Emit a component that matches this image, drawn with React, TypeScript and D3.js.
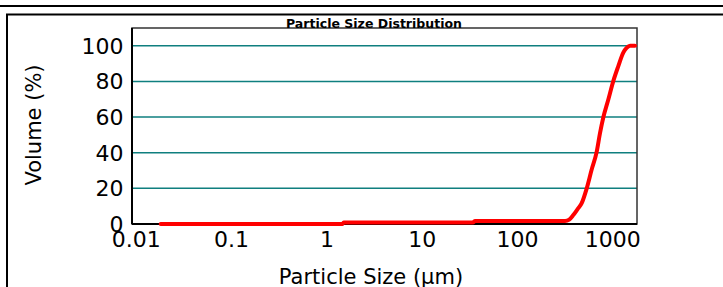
import React from "react";
import * as d3 from "d3";

const sizes: number[] = [
  0.018, 0.05, 0.1, 0.3, 1.0, 1.46, 1.5, 5, 10, 20, 34, 36, 100, 200, 316,
  350, 386, 430, 473, 534, 601, 680, 736, 798, 900, 1015, 1146, 1292, 1400,
  1521, 1715,
];
const volumes: number[] = [
  0, 0, 0, 0, 0, 0, 0.8, 0.8, 0.8, 0.8, 0.8, 1.7, 1.7, 1.7, 1.7,
  2.5, 5, 8.5, 11.7, 20, 30.4, 40.6, 51, 59.9, 69.9, 80.2, 88.6, 96.2, 98.8,
  100, 100,
];
const xTicks: number[] = [0.01, 0.1, 1, 10, 100, 1000];
const xTickLabels: string[] = ["0.01", "0.1", "1", "10", "100", "1000"];
const yTicks: number[] = [0, 20, 40, 60, 80, 100];
const gridValues: number[] = [20, 40, 60, 80, 100];

const W = 723;
const H = 287;
const left = 132;
const right = 637;
const top = 28;
const bottom = 224;

export default function App() {
  const x = d3.scaleLog().domain([0.009, 1800]).range([left, right]);
  const y = d3.scaleLinear().domain([0, 110]).range([bottom, top]);
  const pts: [number, number][] = sizes.map((s, i) => [s, volumes[i]]);
  const line = d3
    .line<[number, number]>()
    .x((d) => x(d[0]))
    .y((d) => y(d[1]))
    .curve(d3.curveMonotoneX);
  const font = "'DejaVu Sans', Verdana, sans-serif";
  return (
    <svg
      width={W}
      height={H}
      style={{ position: "absolute", left: 0, top: 0, background: "#fff" }}
      fontFamily={font}
    >
      <rect x={0} y={0} width={W} height={H} fill="#fff" />
      <line x1={0} x2={W} y1={6} y2={6} stroke="#000" strokeWidth={2} />
      <path d={`M${W + 2},14.5 H7 V${H + 2}`} fill="none" stroke="#000" strokeWidth={2} />
      {gridValues.map((g) => (
        <line
          key={g}
          x1={left}
          x2={right}
          y1={y(g)}
          y2={y(g)}
          stroke="#0f7f7f"
          strokeWidth={1.5}
        />
      ))}
      <rect
        x={left}
        y={top}
        width={right - left}
        height={bottom - top}
        fill="none"
        stroke="#333"
        strokeWidth={1.5}
      />
      <line x1={left} x2={left} y1={top} y2={bottom} stroke="#000" strokeWidth={2} />
      <line x1={left} x2={right} y1={bottom} y2={bottom} stroke="#000" strokeWidth={2} />
      <path
        d={line(pts) || ""}
        fill="none"
        stroke="#ff0000"
        strokeWidth={4}
        strokeLinejoin="round"
        strokeLinecap="round"
      />
      {yTicks.map((t) => (
        <text
          key={t}
          x={123.5}
          y={y(t)}
          dy="0.36em"
          textAnchor="end"
          fontSize={22}
          fill="#000"
        >
          {t}
        </text>
      ))}
      {xTicks.map((t, i) => (
        <text
          key={t}
          x={x(t)}
          y={247}
          textAnchor="middle"
          fontSize={22}
          fill="#000"
        >
          {xTickLabels[i]}
        </text>
      ))}
      <text x={371} y={284} textAnchor="middle" fontSize={21} fill="#000">
        Particle Size (µm)
      </text>
      <text
        transform="translate(40.5,125) rotate(-90)"
        textAnchor="middle"
        fontSize={21}
        fill="#000"
      >
        Volume (%)
      </text>
      <text
        x={374}
        y={27.5}
        textAnchor="middle"
        fontSize={11.5}
        fontWeight="bold"
        textLength={176}
        lengthAdjust="spacingAndGlyphs"
        fill="#000"
      >
        Particle Size Distribution
      </text>
    </svg>
  );
}
